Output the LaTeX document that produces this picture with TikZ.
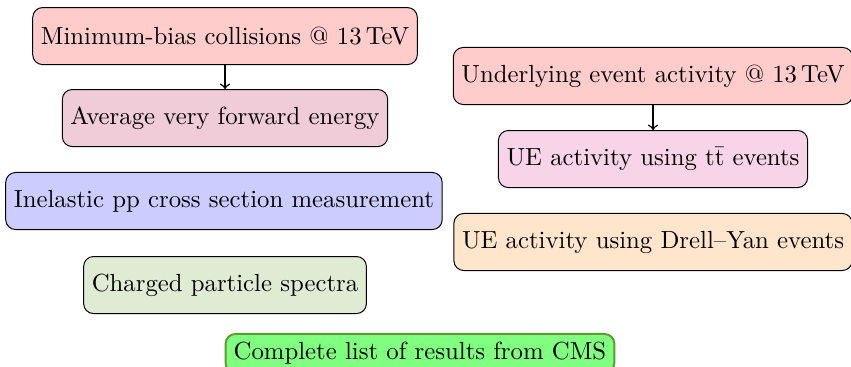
\documentclass[tikz,border=0pt]{standalone}
\usepackage{tikz}

\definecolor{fwdpurple}{rgb}{0.94,0.80,0.85}
\definecolor{ttpink}{rgb}{0.97,0.83,0.91}
\definecolor{spectragreen}{rgb}{0.88,0.92,0.83}
\definecolor{cmsborder}{rgb}{0.36,0.62,0.18}

\begin{document}
\begin{tikzpicture}[
    box/.style={draw, rounded corners, minimum height=0.81cm, inner sep=3.3pt},
    link/.style={->, semithick}
  ]
  \useasboundingbox (0,0) rectangle (12.083,5.197);

  % Minimum-bias results (left column)
  \node[box, fill=red!20] (minbias) at (3.195,4.685) {Minimum-bias collisions @ 13\,TeV};
  \node[box, fill=fwdpurple] (fwdenergy) at (3.195,3.521) {Average very forward energy};
  \node[box, fill=blue!20] (inelastic) at (3.180,2.343) {Inelastic pp cross section measurement};
  \node[box, fill=spectragreen] (spectra) at (3.195,1.150) {Charged particle spectra};

  % Underlying event results (right column)
  \node[box, fill=red!20] (ueactivity) at (9.272,4.118) {Underlying event activity @ 13\,TeV};
  \node[box, fill=ttpink] (uettbar) at (9.272,2.939) {UE activity using $\mathrm{t\bar{t}}$ events};
  \node[box, fill=orange!20] (uedy) at (9.272,1.761) {UE activity using Drell--Yan events};

  % Link to the full list
  \node[draw=cmsborder, thick, fill=green!50, rounded corners, inner sep=3.3pt, anchor=north] (cmslist) at (5.963,0.469) {Complete list of results from CMS};

  % Draw arrows
  \draw[link] (minbias) -- (fwdenergy);
  \draw[link] (ueactivity) -- (uettbar);
\end{tikzpicture}
\end{document}
